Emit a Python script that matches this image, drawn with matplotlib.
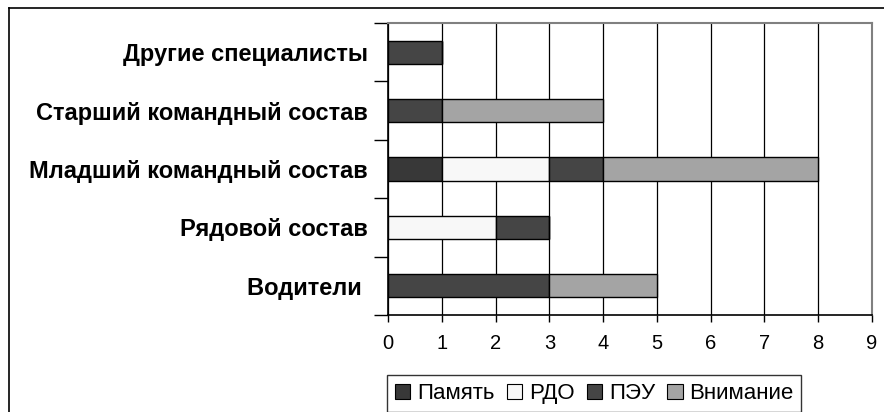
import matplotlib
matplotlib.use("Agg")
import matplotlib.pyplot as plt
from matplotlib.patches import Patch
from matplotlib.lines import Line2D
import numpy as np

categories = ["Водители ", "Рядовой состав", "Младший командный состав",
              "Старший командный состав", "Другие специалисты"]
series_names = ["Память", "РДО", "ПЭУ", "Внимание"]
pamyat = [0, 0, 1, 0, 0]
rdo = [0, 2, 2, 0, 0]
peu = [3, 1, 1, 1, 1]
vnimanie = [2, 0, 4, 3, 0]
x_ticks = [0, 1, 2, 3, 4, 5, 6, 7, 8, 9]

colors = ["#383838", "#f8f8f8", "#454545", "#a4a4a4"]

plt.rcParams['font.family'] = ['Liberation Sans', 'DejaVu Sans']

fig = plt.figure(figsize=(8.84, 4.12), dpi=100)
ax = fig.add_axes([388/884, 1-315/412, (872-388)/884, (315-23)/412])

y = np.arange(len(categories))
left = np.zeros(len(categories))
for name, vals, c in zip(series_names, [pamyat, rdo, peu, vnimanie], colors):
    vals = np.array(vals, dtype=float)
    ax.barh(y, vals, left=left, height=0.4, color=c, edgecolor="black",
            linewidth=1.0, zorder=3, label=name)
    left += vals

ax.set_xlim(0, 9)
ax.set_ylim(-0.5, len(categories) - 0.5)
ax.set_xticks(x_ticks)
ax.set_xticklabels([str(t) for t in x_ticks], fontsize=14.5)
ax.tick_params(axis='x', direction='out', length=5, width=1, pad=9, color='black')
ax.xaxis.grid(True, color='black', linewidth=0.9, zorder=0)

ax.set_yticks(np.arange(-0.5, len(categories), 1.0))
ax.set_yticklabels([])
ax.tick_params(axis='y', which='major', direction='out', length=10, width=1)
ax.set_yticks(y, minor=True)
ax.set_yticklabels(categories, minor=True, fontsize=17, fontweight='bold')
ax.tick_params(axis='y', which='minor', length=0, pad=14.4)

for s in ['left', 'bottom']:
    ax.spines[s].set_color('black')
    ax.spines[s].set_linewidth(1.2)
for s in ['top', 'right']:
    ax.spines[s].set_color('#808080')
    ax.spines[s].set_linewidth(1.5)
ax.set_axisbelow(True)

# outer chart frame
fig.add_artist(Line2D([9/884, 9/884], [0, 1-8/412], color='black', linewidth=1.2,
                      transform=fig.transFigure))
fig.add_artist(Line2D([9/884, 1], [1-8/412, 1-8/412], color='black', linewidth=1.2,
                      transform=fig.transFigure))

handles = [Patch(facecolor=c, edgecolor='black', linewidth=0.8) for c in colors]
leg = fig.legend(handles, series_names, loc='lower left',
                 bbox_to_anchor=(387/884, 0.0),
                 ncol=4, fontsize=16, frameon=True, fancybox=False,
                 edgecolor='black', handlelength=0.7, handleheight=0.7,
                 handletextpad=0.3, columnspacing=0.55, borderaxespad=0.0,
                 borderpad=0.35)
leg.get_frame().set_linewidth(1.0)

fig.savefig("out.png", dpi=100)
